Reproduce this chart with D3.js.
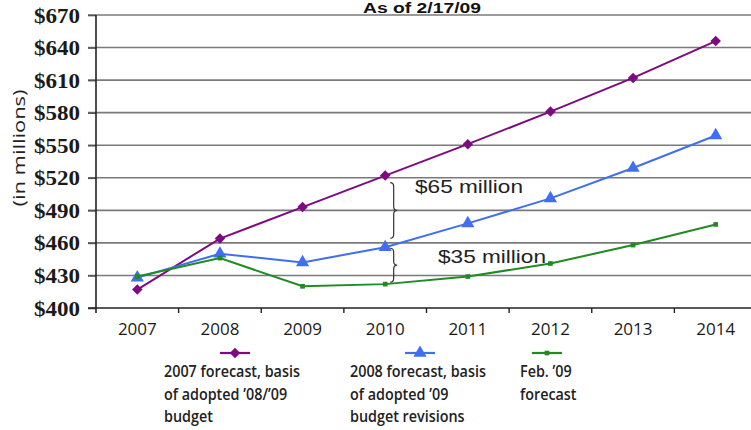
<!DOCTYPE html>
<html><head><meta charset="utf-8">
<script src="https://cdn.jsdelivr.net/npm/d3@7"></script>
<style>body{margin:0;background:#fff}</style>
</head><body>
<svg id="c" width="751" height="430"></svg>
<script>
const years = ["2007","2008","2009","2010","2011","2012","2013","2014"];
const forecast2007 = [417, 464, 493, 522, 551, 581, 612, 646];
const forecast2008 = [428, 450, 442, 456, 478, 501, 529, 559];
const forecastFeb09 = [429, 446, 420, 422, 429, 441, 458, 477];
const yTicks = [400, 430, 460, 490, 520, 550, 580, 610, 640, 670];
const legendLines = [
  ["2007 forecast, basis", "of adopted ’08/’09", "budget"],
  ["2008 forecast, basis", "of adopted ’09", "budget revisions"],
  ["Feb. ’09", "forecast"]
];
const seriesNames = ["forecast2007","forecast2008","forecastFeb09"];
const colors = ["#7d0b7f", "#3f6ff0", "#1f8b22"];
const series = [forecast2007, forecast2008, forecastFeb09];
const symbols = [d3.symbolDiamond2, d3.symbolTriangle, d3.symbolSquare];
const symSizes = [70, 75, 22];

const svg = d3.select("#c");
const x = d3.scaleBand().domain(years).range([96, 757]);
const y = d3.scaleLinear().domain([400, 670]).range([308, 15]);

// gridlines
svg.append("g").selectAll("line").data(yTicks.filter(v => v > 400)).join("line")
  .attr("x1", 88).attr("x2", 751).attr("y1", d => y(d)).attr("y2", d => y(d))
  .attr("stroke", "#7a7a7a").attr("stroke-width", 1.6);

// y axis
const ya = svg.append("g").attr("transform", "translate(96,0)")
  .call(d3.axisLeft(y).tickValues(yTicks).tickSize(8).tickFormat(d => "$" + d));
ya.select(".domain").remove();
ya.selectAll(".tick line").attr("stroke", "#555").attr("stroke-width", 1.6);
ya.selectAll(".tick text").attr("x", -16).attr("dy", "0.35em")
  .attr("font-family", "Liberation Serif").attr("font-weight", "bold").attr("font-size", 20)
  .attr("fill", "#1a1a1a").attr("textLength", 46).attr("lengthAdjust", "spacingAndGlyphs");
svg.append("line").attr("x1", 96).attr("x2", 96).attr("y1", 15).attr("y2", 313)
  .attr("stroke", "#222").attr("stroke-width", 1.6);

// x axis
svg.append("line").attr("x1", 88).attr("x2", 751).attr("y1", y(400)).attr("y2", y(400))
  .attr("stroke", "#222").attr("stroke-width", 1.6);
const xa = svg.append("g").attr("transform", `translate(0,${y(400)})`)
  .call(d3.axisBottom(x).tickSize(0).tickPadding(0));
xa.select(".domain").remove();
xa.selectAll(".tick text").attr("y", 27).attr("dy", 0)
  .attr("font-family", "Open Sans").attr("font-size", 17).attr("fill", "#1a1a1a");
svg.append("g").selectAll("line").data(years.slice(1)).join("line")
  .attr("x1", d => x(d)).attr("x2", d => x(d)).attr("y1", y(400)).attr("y2", y(400) + 5)
  .attr("stroke", "#222").attr("stroke-width", 1.4);

// series
const line = d3.line().x((d, i) => x(years[i]) + x.bandwidth() / 2).y(d => y(d));
series.forEach((s, k) => {
  const g = svg.append("g").attr("class", seriesNames[k]);
  g.append("path").attr("d", line(s)).attr("fill", "none").attr("stroke", colors[k]).attr("stroke-width", 2);
  g.selectAll("path.m").data(s).join("path").attr("class", "m")
    .attr("transform", (d, i) => `translate(${x(years[i]) + x.bandwidth() / 2},${y(d)})`)
    .attr("d", d3.symbol().type(symbols[k]).size(symSizes[k])).attr("fill", colors[k]);
});

// title
svg.append("text").attr("x", 422).attr("y", 13).attr("text-anchor", "middle")
  .attr("font-family", "Liberation Sans").attr("font-weight", "bold").attr("font-size", 14)
  .attr("fill", "#111").attr("textLength", 118).attr("lengthAdjust", "spacingAndGlyphs")
  .text("As of 2/17/09");

// y label
svg.append("text").attr("transform", "translate(19,148) rotate(-90)")
  .attr("text-anchor", "middle").attr("dominant-baseline", "central")
  .attr("font-family", "Open Sans").attr("font-size", 16).attr("fill", "#222")
  .attr("textLength", 117).attr("lengthAdjust", "spacingAndGlyphs").text("(in millions)");

// braces
const bx = x("2010") + x.bandwidth() / 2;
function brace(top, bot) {
  const mid = (top + bot) / 2, a = bx + 5, b = bx + 8.5, c = bx + 12;
  return `M${a},${top} Q${b},${top} ${b},${top + 4} L${b},${mid - 4} Q${b},${mid} ${c},${mid} Q${b},${mid} ${b},${mid + 4} L${b},${bot - 4} Q${b},${bot} ${a},${bot}`;
}
svg.append("path").attr("d", brace(y(forecast2007[3]) + 7, y(forecast2008[3]) - 9))
  .attr("fill", "none").attr("stroke", "#333").attr("stroke-width", 1.2);
svg.append("path").attr("d", brace(y(forecast2008[3]) + 1, y(forecastFeb09[3]) - 2))
  .attr("fill", "none").attr("stroke", "#333").attr("stroke-width", 1.2);
const ann = [["$65 million", 415, 193], ["$35 million", 438, 263]];
ann.forEach(a => svg.append("text").attr("x", a[1]).attr("y", a[2])
  .attr("font-family", "Liberation Sans").attr("font-size", 19).attr("fill", "#222")
  .attr("textLength", 108).attr("lengthAdjust", "spacingAndGlyphs").text(a[0]));

// legend
const legX = [164, 350, 520];
const legMarkX = [235, 420, 547];
legendLines.forEach((lines, k) => {
  const g = svg.append("g");
  g.append("line").attr("x1", legMarkX[k] - 15).attr("x2", legMarkX[k] + 15)
    .attr("y1", 353).attr("y2", 353).attr("stroke", colors[k]).attr("stroke-width", 2.2);
  g.append("path").attr("transform", `translate(${legMarkX[k]},353)`)
    .attr("d", d3.symbol().type(symbols[k]).size(symSizes[k])).attr("fill", colors[k]);
  lines.forEach((t, j) => {
    g.append("text").attr("class", "leg").attr("data-col", k)
      .attr("transform", `translate(${legX[k]},${377 + j * 22.5})`)
      .attr("font-family", "Open Sans").attr("font-weight", 600).attr("font-size", 16)
      .attr("fill", "#222").text(t);
  });
});
const ref = svg.select("text.leg").node().getComputedTextLength();
const s = 136 / ref;
svg.selectAll("text.leg").each(function() {
  const t = d3.select(this);
  t.attr("transform", t.attr("transform") + ` scale(${s},1)`);
});
</script>
</body></html>
